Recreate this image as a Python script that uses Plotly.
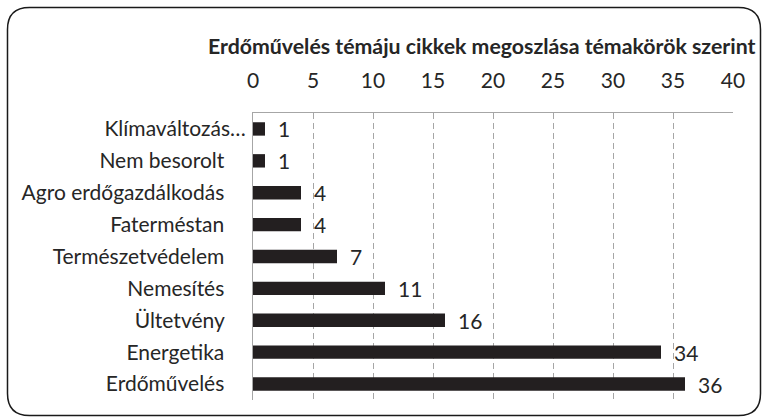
import plotly.graph_objects as go

categories = ["Klímaváltozás…", "Nem besorolt", "Agro erdőgazdálkodás", "Faterméstan",
              "Természetvédelem", "Nemesítés", "Ültetvény", "Energetika", "Erdőművelés"]
values = [1, 1, 4, 4, 7, 11, 16, 34, 36]
tick_vals = [0, 5, 10, 15, 20, 25, 30, 35, 40]
title_text = "Erdőművelés témáju cikkek megoszlása témakörök szerint"

W, H = 764, 420
ML, MR, MT, MB = 253, 31, 113, 20
PW, PH = W - ML - MR, H - MT - MB
FS = 21

def px2paper(x, y):
    return (x - ML) / PW, 1 - (y - MT) / PH

x0, y0, x1, y1, r = 7.5, 7.5, 760.5, 415.5, 22
def P(x, y):
    a, b = px2paper(x, y)
    return f"{a:.5f},{b:.5f}"
path = (f"M {P(x0 + r, y0)} L {P(x1 - r, y0)} Q {P(x1, y0)} {P(x1, y0 + r)} "
        f"L {P(x1, y1 - r)} Q {P(x1, y1)} {P(x1 - r, y1)} "
        f"L {P(x0 + r, y1)} Q {P(x0, y1)} {P(x0, y1 - r)} "
        f"L {P(x0, y0 + r)} Q {P(x0, y0)} {P(x0 + r, y0)} Z")

# Excel-style: truncated label's ellipsis sticks out past the other labels
pad = "\u00a0" * 4
y_ticktext = [c if c.endswith("…") else c + pad for c in categories]

fig = go.Figure()
fig.add_trace(go.Bar(
    x=values, y=categories, orientation="h",
    marker=dict(color="#231f20", line=dict(width=0)),
    width=0.42, hoverinfo="skip",
))

for c, v in zip(categories, values):
    fig.add_annotation(x=v, y=c, text=str(v), showarrow=False,
                       xanchor="left", yanchor="middle", xshift=11,
                       font=dict(family="Lato", size=FS, color="#262626"))

fig.add_annotation(xref="paper", yref="paper", x=px2paper(758, 0)[0], y=px2paper(0, 46)[1],
                   text=f"<b>{title_text}</b>", showarrow=False,
                   xanchor="right", yanchor="middle",
                   font=dict(family="Lato", size=21.3, color="#262626"))

fig.add_shape(type="path", path=path, xref="paper", yref="paper",
              line=dict(color="#1a1a1a", width=1.5))

fig.update_layout(
    width=W, height=H,
    margin=dict(l=ML, r=MR, t=MT, b=MB, autoexpand=False),
    paper_bgcolor="white", plot_bgcolor="white",
    showlegend=False,
    font=dict(family="Lato", size=FS, color="#262626"),
    xaxis=dict(side="top", range=[0, 40], tickvals=tick_vals,
               ticktext=[str(t) for t in tick_vals], automargin=False,
               showgrid=True, gridcolor="#a6a6a6", gridwidth=1, griddash="6px,4px",
               showline=True, linecolor="#a6a6a6", linewidth=1,
               zeroline=False, ticks="", ticklabelstandoff=16,
               tickfont=dict(family="Lato", size=FS, color="#262626")),
    yaxis=dict(autorange="reversed", showline=True, linecolor="#a6a6a6", linewidth=1,
               showgrid=False, zeroline=False, ticks="", ticklabelstandoff=2,
               automargin=False, tickmode="array", tickvals=categories, ticktext=y_ticktext,
               tickfont=dict(family="Lato", size=FS, color="#262626")),
)

fig.write_html("out.html", config={"displayModeBar": False},
               post_script="document.body.style.margin='0';document.body.style.overflow='hidden';")
